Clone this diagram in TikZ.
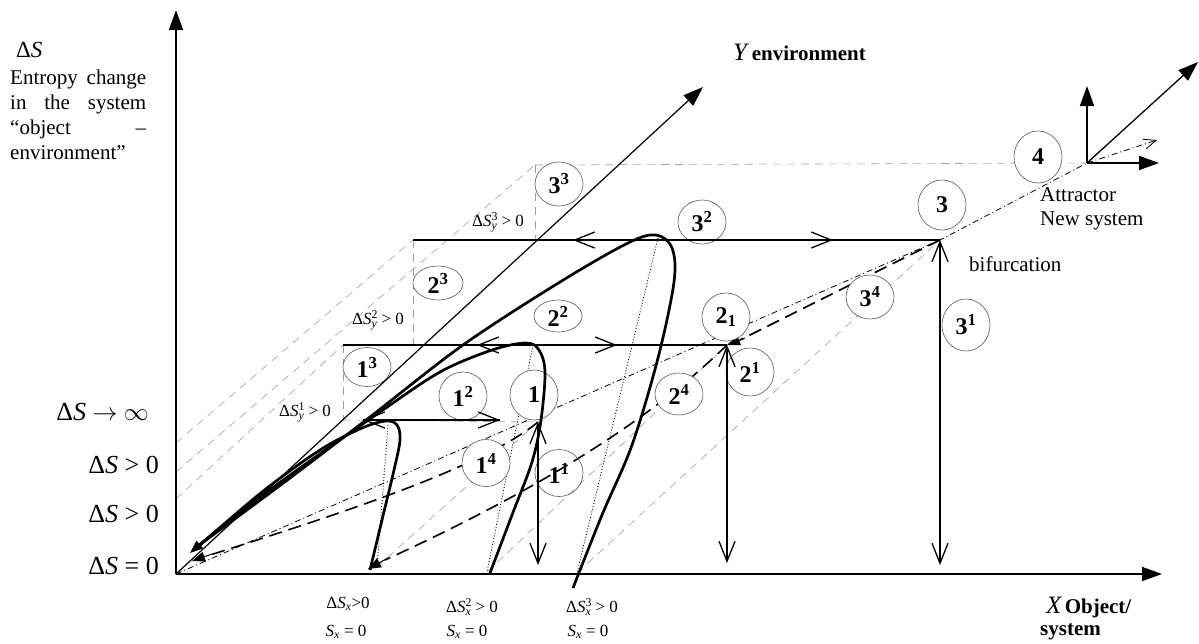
\documentclass[tikz,border=0pt]{standalone}
\usepackage{fontspec}
\setmainfont{Liberation Serif}
\usetikzlibrary{arrows.meta,shapes.geometric}
\newcommand\DS{Δ\textit{S}}
\newcommand\supsub[2]{\rlap{\textsuperscript{#1}}\textsubscript{#2}}
\newcommand\bl[2]{\textbf{#1}\textsuperscript{\textbf{#2}}}
\begin{document}
\begin{tikzpicture}[x=1pt,y=-1pt,
  axis/.style={line width=1.6pt,-{Triangle[length=20pt,width=14pt]}},
  thk/.style={line width=2.7pt},
  gdash/.style={draw=gray!75,line width=0.6pt,dash pattern=on 8pt off 6pt},
  ldash/.style={line width=1.6pt,dash pattern=on 13pt off 7pt},
  ddot/.style={line width=0.8pt,dash pattern=on 6pt off 3pt on 1pt off 3pt},
  dots/.style={line width=0.9pt,dotted},
  stage/.style={line width=1.3pt},
  barbs/.style={line width=1.3pt,{Straight Barb[length=20pt,width=16pt]}-{Straight Barb[length=20pt,width=16pt]}},
  fillhead/.style={-{Triangle[length=13pt,width=10pt]}},
  lab/.style={ellipse,draw=gray!70!black,line width=0.6pt,fill=white,inner sep=0pt,minimum width=48pt,minimum height=44pt,font=\fontsize{24}{24}\selectfont},
  txt/.style={font=\fontsize{21}{25}\selectfont,inner sep=0pt},
  big/.style={font=\fontsize{26}{28}\selectfont,inner sep=0pt},
  sml/.style={font=\fontsize{17}{19}\selectfont,inner sep=0pt}]
\useasboundingbox (0,0) rectangle (1199,643);

% key points
\coordinate (O) at (176,574);
\coordinate (P1) at (538,422);
\coordinate (P2) at (727,345);
\coordinate (P3) at (940,240);
\coordinate (P4) at (1087,163);
\coordinate (B1) at (538,565);
\coordinate (B2) at (727,563);
\coordinate (B3) at (940,565);
\coordinate (L1) at (343,420);
\coordinate (L2) at (343,345);
\coordinate (L3) at (413,240);
\coordinate (K3) at (535,165);
\coordinate (X1) at (377,567);
\coordinate (X2) at (487,572);
\coordinate (X3) at (577,573);
\coordinate (A1) at (176,443);
\coordinate (A2) at (176,472);
\coordinate (A3) at (176,499);

% grey dashed construction lines
\draw[gdash] (L2) -- (L1);
\draw[gdash] (L3) -- (413,345);
\draw[gdash] (K3) -- (535,240);
\draw[gdash] (K3) -- (P4);
\draw[gdash] (A1) -- (L3);
\draw[gdash] (A2) -- (K3);
\draw[gdash] (A3) -- (L2);
\draw[gdash] (L1) -- (P1);
\draw[gdash] (X1) -- (P1);
\draw[gdash] (X2) -- (P2);
\draw[gdash] (X3) -- (P3);

% dash-dot line to attractor
\draw[ddot] (O) -- (P3) -- (P4);
\draw[ddot,-{Straight Barb[length=12pt,width=10pt]}] (P4) -- (1157,140);

% long dashed trajectories
\draw[ldash] (P3) .. controls (860,280) and (790,315) .. (740,340);
\draw[fillhead,line width=1pt] (745,338) -- (P2);
\draw[ldash] (P2) .. controls (660,410) and (560,480) .. (385,560);
\draw[fillhead,line width=1pt] (388,558) -- (368,569);
\draw[ldash] (P1) .. controls (480,470) and (320,520) .. (210,555);
\draw[fillhead,line width=1pt] (212,554) -- (192,561);

% dotted projections
\draw[dots] (388,425) -- (X1);
\draw[dots] (533,345) -- (X2);
\draw[dots] (658,238) -- (X3);

% ellipses with labels
\node[lab] (e33) at (559,184) {\bl{3}{3}};
\node[lab] (e32) at (702,222) {\bl{3}{2}};
\node[lab,minimum width=48pt,minimum height=50pt] (e3) at (942,205) {\textbf{3}};
\node[lab,minimum width=48pt,minimum height=52pt] (e4) at (1038,157) {\textbf{4}};
\node[lab,minimum height=34pt,minimum width=50pt] (e23) at (438,283) {\bl{2}{3}};
\node[lab,minimum height=32pt] (e22) at (558,316) {\bl{2}{2}};
\node[lab,minimum height=39pt] (e13) at (367,367) {\bl{1}{3}};
\node[lab,minimum height=48pt] (e12) at (463,396) {\bl{1}{2}};
\node[lab,minimum height=50pt] (e1) at (534,395) {\textbf{1}};
\node[lab,minimum height=48pt] (e2s) at (726,317) {\textbf{2}\textsubscript{\textbf{1}}};
\node[lab,minimum height=48pt] (e21) at (750,372) {\bl{2}{1}};
\node[lab,minimum height=42pt] (e24) at (679,394) {\bl{2}{4}};
\node[lab,minimum height=44pt] (e34) at (870,297) {\bl{3}{4}};
\node[lab,minimum height=52pt] (e31) at (966,325) {\bl{3}{1}};
\node[lab,minimum height=47pt] (e14) at (486,463) {\bl{1}{4}};
\node[lab,minimum height=47pt,fill=none] (e11) at (559,473) {\bl{1}{1}};

% thick trajectories
\draw[thk] plot[smooth,tension=0.55] coordinates {(370,570) (382,520) (394,470) (400,440) (397,425) (386,421) (362,428) (320,450) (262,492) (200,545)};
\draw[thk] plot[smooth,tension=0.55] coordinates {(490,573) (512,515) (532,462) (541,420) (545,372) (539,350) (526,343) (492,350) (440,372) (380,412) (300,468) (240,512) (198,546)};
\draw[thk] plot[smooth,tension=0.55] coordinates {(573,588) (602,515) (632,445) (658,358) (674,282) (672,248) (656,235) (628,243) (560,282) (463,345) (370,417) (290,478) (198,546)};
\draw[fillhead,line width=1pt] (205,540) -- (190,553);

% stage horizontals with barbs
\draw[stage] (363,420) -- (500,420);
\draw[barbs] (363,420) -- (500,420);
\draw[stage] (L2) -- (P2);
\draw[barbs] (477,345) -- (617,345);
\draw[stage] (L3) -- (P3);
\draw[barbs] (573,240) -- (833,240);

% vertical double arrows
\draw[barbs] (B1) -- (P1);
\draw[barbs] (B2) -- (P2);
\draw[barbs] (B3) -- (P3);

% axes
\draw[axis] (O) -- (176,10);
\draw[axis] (O) -- (1162,574);
\draw[line width=1.2pt,-{Triangle[length=20pt,width=14pt]}] (O) -- (703,87);
% small attractor axes
\draw[axis] (P4) -- (1087,86);
\draw[axis] (P4) -- (1159,163);
\draw[line width=1.3pt,-{Triangle[length=20pt,width=14pt]}] (P4) -- (1198,62);

% texts
\node[anchor=west,font=\fontsize{23}{23}\selectfont,inner sep=0pt] (tDS) at (16,50) {\DS};
\node[anchor=north west,txt,align=left] (tEnt) at (10,70) {\makebox[136pt][s]{Entropy change}\\\makebox[136pt][s]{in the system}\\\makebox[136pt][s]{“object –}\\environment”};
\node[big,anchor=east] (tinf) at (149,412) {\DS\ $\rightarrow$ $\infty$};
\node[big,anchor=east] (tp1) at (159,465) {\DS\ > 0};
\node[big,anchor=east] (tp2) at (159,514) {\DS\ > 0};
\node[big,anchor=east] (tz) at (159,566) {\DS\ = 0};
\node[anchor=west,inner sep=0pt] (tY) at (733,52) {{\fontsize{25}{25}\selectfont\textit{Y}} {\fontsize{21}{21}\selectfont\textbf{environment}}};
\node[anchor=west,inner sep=0pt] (tX) at (1046,608) {{\fontsize{25}{25}\selectfont\textit{X}} {\fontsize{21}{21}\selectfont\textbf{Object/}}};
\node[anchor=west,inner sep=0pt,font=\fontsize{21}{21}\selectfont\bfseries] (tXs) at (1040,632) {system};
\node[txt,anchor=west] (tAtt) at (1040,195) {Attractor};
\node[txt,anchor=west] (tNew) at (1040,221) {New system};
\node[txt,anchor=west] (tBif) at (969,264) {bifurcation};
\node[sml] (dy3) at (498,222) {\DS\supsub{3}{\textit{y}}\ > 0};
\node[sml] (dy2) at (378,320) {\DS\supsub{2}{\textit{y}}\ > 0};
\node[sml] (dy1) at (305,412) {\DS\supsub{1}{\textit{y}}\ > 0};
\node[sml] (dx1) at (348,604) {\DS\textsubscript{\textit{x}}>0};
\node[sml] (sx1) at (346,632) {\textit{S}\textsubscript{\textit{x}} = 0};
\node[sml] (dx2) at (472,607) {\DS\supsub{2}{\textit{x}}\ > 0};
\node[sml] (sx2) at (467,632) {\textit{S}\textsubscript{\textit{x}} = 0};
\node[sml] (dx3) at (592,607) {\DS\supsub{3}{\textit{x}}\ > 0};
\node[sml] (sx3) at (588,632) {\textit{S}\textsubscript{\textit{x}} = 0};
\end{tikzpicture}
\end{document}
